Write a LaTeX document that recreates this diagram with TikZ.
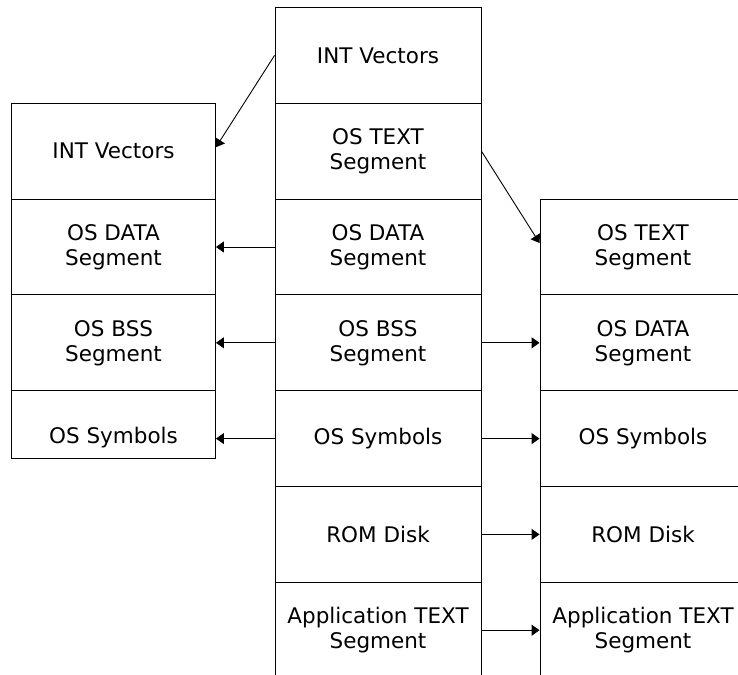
\documentclass[tikz,border=0pt]{standalone}
\usepackage{fontspec}
\setmainfont{DejaVu Sans}
\usetikzlibrary{arrows.meta}
\tikzset{
  cell/.style={draw=black, line width=0.9pt, rectangle, inner sep=0pt,
    minimum width=#1, minimum height=95.8pt, align=center,
    font=\fontsize{21.5}{25}\selectfont},
  cell/.default=206pt,
  arr/.style={line width=0.9pt, -{Triangle[length=8pt,width=11pt]}},
  lbl/.style={inner sep=0pt, align=center, font=\fontsize{21.5}{25}\selectfont}
}
\begin{document}
\begin{tikzpicture}[x=1pt,y=1pt]
\useasboundingbox (0,0) rectangle (738,-674);
\clip (0,0) rectangle (738,-674);
% centre column
\node[cell] (c1) at (378,-55.4)  {INT Vectors};
\node[cell] (c2) at (378,-151.2) {OS TEXT\\Segment};
\node[cell] (c3) at (378,-247.0) {OS DATA\\Segment};
\node[cell] (c4) at (378,-342.8) {OS BSS\\Segment};
\node[cell] (c5) at (378,-438.6) {OS Symbols};
\node[cell] (c6) at (378,-534.4) {ROM Disk};
\node[cell] (c7) at (378,-630.2) {Application TEXT\\Segment};
% left column
\node[cell=204pt] (l1) at (113.5,-151.2) {INT Vectors};
\node[cell=204pt] (l2) at (113.5,-247.0) {OS DATA\\Segment};
\node[cell=204pt] (l3) at (113.5,-342.8) {OS BSS\\Segment};
\node[cell=204pt, minimum height=67.8pt] (l4) at (113.5,-424.6) {};
\node[lbl] (l4t) at (113.5,-437.5) {OS Symbols};
% right column
\node[cell] (r1) at (643,-247.0) {OS TEXT\\Segment};
\node[cell] (r2) at (643,-342.8) {OS DATA\\Segment};
\node[cell] (r3) at (643,-438.6) {OS Symbols};
\node[cell] (r4) at (643,-534.4) {ROM Disk};
\node[cell] (r5) at (643,-630.2) {Application TEXT\\Segment};
% connectors
\draw[arr] (c1.west) -- ([yshift=4pt]l1.east);
\draw[arr] (c2.east) -- ([yshift=4pt]r1.west);
\draw[arr] (c3.west) -- (c3.west -| l2.east);
\draw[arr] (c4.west) -- (c4.west -| l3.east);
\draw[arr] (c5.west) -- (c5.west -| l4.east);
\draw[arr] (c4.east) -- (c4.east -| r2.west);
\draw[arr] (c5.east) -- (c5.east -| r3.west);
\draw[arr] (c6.east) -- (c6.east -| r4.west);
\draw[arr] (c7.east) -- (c7.east -| r5.west);
\end{tikzpicture}
\end{document}
